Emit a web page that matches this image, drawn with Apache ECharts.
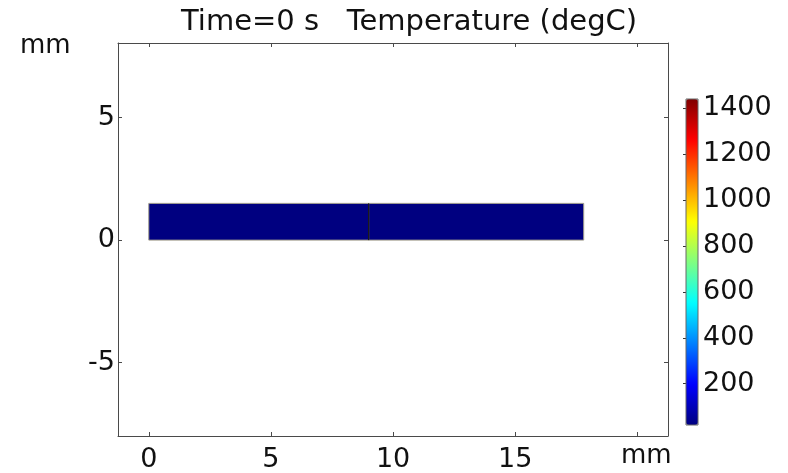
<!DOCTYPE html>
<html>
<head>
<meta charset="utf-8">
<script src="https://cdn.jsdelivr.net/npm/echarts@6/dist/echarts.min.js"></script>
<style>
  html, body { margin: 0; padding: 0; background: #ffffff; }
  #chart { width: 788px; height: 473px; }
</style>
</head>
<body>
<div id="chart"></div>
<script>
// Geometry of the two blocks (mm) and their temperature (degC)
const blockX0 = [0, 9];
const blockX1 = [9, 17.8];
const blockY0 = [0, 0];
const blockY1 = [1.5, 1.5];
const blockTemp = [20, 20];

// Axis ticks and labels
const xTickValues = [0, 5, 10, 15, 20];
const xLabelValues = [0, 5, 10, 15];
const yTickValues = [-5, 0, 5];
const colorbarValues = [200, 400, 600, 800, 1000, 1200, 1400];

// Temperature range of the colour scale
const tempMin = 20;
const tempMax = 1440;

// Visible window in mm
const xMin = -1.26, xMax = 21.25;
const yMin = -8.0, yMax = 8.05;

const FONT = 'DejaVu Sans';
const rainbow = ['#000080', '#0000ff', '#0080ff', '#00ffff', '#80ff80',
                 '#ffff00', '#ff8000', '#ff0000', '#800000'];

const blockData = blockX0.map((x0, i) => [x0, blockY0[i], blockX1[i], blockY1[i], blockTemp[i]]);
// interior boundaries: where one block ends and the next one begins
const interfaceData = [];
for (let i = 0; i + 1 < blockX1.length; i++) {
  if (blockX1[i] === blockX0[i + 1]) {
    interfaceData.push([blockX1[i], Math.min(blockY0[i], blockY0[i + 1]), Math.max(blockY1[i], blockY1[i + 1])]);
  }
}

const chart = echarts.init(document.getElementById('chart'), null, { renderer: 'canvas' });

const frameLine = { show: true, onZero: false, lineStyle: { color: '#4a4a4a', width: 1 } };
const innerTick = (vals) => ({ show: true, inside: true, length: 4, customValues: vals, lineStyle: { color: '#4a4a4a' } });
const plain = (v) => String(v);

chart.setOption({
  animation: false,
  backgroundColor: '#ffffff',
  textStyle: { fontFamily: FONT },
  title: {
    text: 'Time=0 s   Temperature (degC)',
    left: 176,
    top: 3,
    textStyle: { fontFamily: FONT, fontSize: 29, fontWeight: 'normal', color: '#111' }
  },
  grid: [
    { left: 118, top: 43, width: 550, height: 393, show: false },
    { left: 686, top: 99, width: 12, height: 326, show: true, z: 6,
      backgroundColor: 'transparent', borderColor: '#666', borderWidth: 1 }
  ],
  xAxis: [
    { gridIndex: 0, type: 'value', position: 'bottom', min: xMin, max: xMax,
      axisLine: frameLine, axisTick: innerTick(xTickValues), splitLine: { show: false },
      axisLabel: { customValues: xLabelValues, formatter: plain, fontSize: 27, color: '#111', margin: 10, fontFamily: FONT } },
    { gridIndex: 0, type: 'value', position: 'top', min: xMin, max: xMax,
      axisLine: frameLine, axisTick: innerTick(xTickValues), splitLine: { show: false },
      axisLabel: { show: false } },
    { gridIndex: 1, type: 'value', min: 0, max: 1, show: false }
  ],
  yAxis: [
    { gridIndex: 0, type: 'value', position: 'left', min: yMin, max: yMax,
      axisLine: frameLine, axisTick: innerTick(yTickValues), splitLine: { show: false },
      axisLabel: { customValues: yTickValues, formatter: plain, fontSize: 27, color: '#111', margin: 3, fontFamily: FONT } },
    { gridIndex: 0, type: 'value', position: 'right', min: yMin, max: yMax,
      axisLine: frameLine, axisTick: innerTick(yTickValues), splitLine: { show: false },
      axisLabel: { show: false } },
    { gridIndex: 1, type: 'value', position: 'right', min: tempMin, max: tempMax,
      axisLine: { show: false }, splitLine: { show: false },
      axisTick: { show: true, inside: true, length: 3, customValues: colorbarValues, lineStyle: { color: '#333' } },
      axisLabel: { customValues: colorbarValues, formatter: plain, fontSize: 27, color: '#111', margin: 5, fontFamily: FONT } }
  ],
  visualMap: {
    type: 'continuous',
    min: tempMin,
    max: tempMax,
    seriesIndex: 0,
    dimension: 4,
    left: 686,
    top: 99,
    padding: 0,
    itemWidth: 12,
    itemHeight: 326,
    calculable: false,
    hoverLink: false,
    text: null,
    formatter: () => '',
    inRange: { color: rainbow }
  },
  graphic: [
    { type: 'text', left: 20, top: 33, style: { text: 'mm', font: '26px "DejaVu Sans"', fill: '#111' } },
    { type: 'text', left: 621, top: 443, style: { text: 'mm', font: '26px "DejaVu Sans"', fill: '#111' } }
  ],
  series: [
    {
      type: 'custom',
      xAxisIndex: 0,
      yAxisIndex: 0,
      data: blockData,
      encode: { x: [0, 2], y: [1, 3] },
      renderItem: (params, api) => {
        const p0 = api.coord([api.value(0), api.value(1)]);
        const p1 = api.coord([api.value(2), api.value(3)]);
        return {
          type: 'rect',
          shape: { x: p0[0], y: p1[1], width: p1[0] - p0[0], height: p0[1] - p1[1] },
          style: { fill: api.visual('color'), stroke: '#a09c8c', lineWidth: 1 }
        };
      }
    },
    {
      type: 'custom',
      xAxisIndex: 0,
      yAxisIndex: 0,
      data: interfaceData,
      renderItem: (params, api) => {
        const a = api.coord([api.value(0), api.value(1)]);
        const b = api.coord([api.value(0), api.value(2)]);
        return {
          type: 'line',
          shape: { x1: a[0], y1: a[1], x2: b[0], y2: b[1] },
          style: { stroke: '#000000', lineWidth: 1 }
        };
      }
    }
  ]
});
</script>
</body>
</html>
